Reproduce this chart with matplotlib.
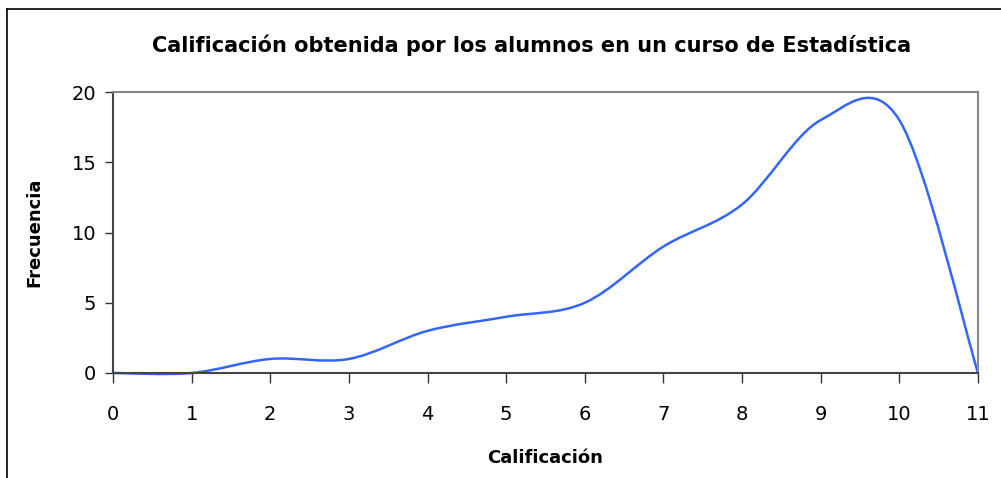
import matplotlib
matplotlib.use("Agg")
import matplotlib.pyplot as plt
from matplotlib.path import Path
from matplotlib.patches import PathPatch
from matplotlib.lines import Line2D

calificacion = [0, 1, 2, 3, 4, 5, 6, 7, 8, 9, 10, 11]
frecuencia = [0, 0, 1, 1, 3, 4, 5, 9, 12, 18, 18, 0]

fig = plt.figure(figsize=(10.01, 4.78), dpi=100)
ax = fig.add_axes([113 / 1001, 1 - 373 / 478, (978 - 113) / 1001, (373 - 92) / 478])

# smoothed line like the spreadsheet: cubic Bezier segments through the points
pts = list(zip(calificacion, frecuencia))
n = len(pts)
verts = [pts[0]]
codes = [Path.MOVETO]
for i in range(n - 1):
    p0 = pts[max(i - 1, 0)]
    p1 = pts[i]
    p2 = pts[i + 1]
    p3 = pts[min(i + 2, n - 1)]
    c1 = (p1[0] + (p2[0] - p0[0]) / 6, p1[1] + (p2[1] - p0[1]) / 6)
    c2 = (p2[0] - (p3[0] - p1[0]) / 6, p2[1] - (p3[1] - p1[1]) / 6)
    verts += [c1, c2, p2]
    codes += [Path.CURVE4] * 3
ax.add_patch(PathPatch(Path(verts, codes), facecolor="none",
                       edgecolor="#3366FF", lw=1.8, clip_on=False))

ax.set_xlim(0, 11)
ax.set_ylim(0, 20)
ax.set_xticks(calificacion)
ax.set_yticks([0, 5, 10, 15, 20])

for s in ["left", "bottom"]:
    ax.spines[s].set_color("#444444")
    ax.spines[s].set_linewidth(1.5)
for s in ["top", "right"]:
    ax.spines[s].set_color("#888888")
    ax.spines[s].set_linewidth(1.5)

ax.tick_params(axis="y", direction="out", length=6, width=1, color="#333333",
               labelsize=14, pad=6)
ax.tick_params(axis="x", direction="out", length=7, width=1, color="#333333",
               labelsize=14, pad=16)

ax.set_xlabel("Calificación", fontsize=13, fontweight="bold", labelpad=18)
ax.set_ylabel("Frecuencia", fontsize=13, fontweight="bold", labelpad=20)
fig.text(532 / 1001, 1 - 45 / 478, "Calificación obtenida por los alumnos en un curso de Estadística",
         ha="center", va="center", fontsize=15, fontweight="bold")

# outer frame (only top and left visible)
fig.add_artist(Line2D([7 / 1001, 7 / 1001], [0, 1 - 9 / 478], color="black", lw=1.2,
                      transform=fig.transFigure))
fig.add_artist(Line2D([7 / 1001, 1], [1 - 9 / 478, 1 - 9 / 478], color="black", lw=1.2,
                      transform=fig.transFigure))

fig.savefig("out.png", dpi=100)
